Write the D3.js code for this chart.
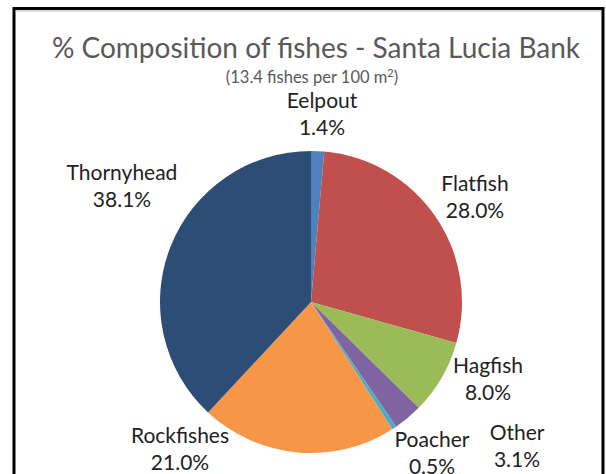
<!DOCTYPE html>
<html><head><meta charset="utf-8">
<script src="https://cdn.jsdelivr.net/npm/d3@7"></script>
<style>body{margin:0;background:#fff;} svg{display:block;}</style>
</head><body>
<svg id="chart" width="606" height="474"></svg>
<script>
const categories = ["Eelpout","Flatfish","Hagfish","Other","Poacher","Rockfishes","Thornyhead"];
const values = [1.4, 28.0, 8.0, 3.1, 0.5, 21.0, 38.1];
const valueLabels = ["1.4%","28.0%","8.0%","3.1%","0.5%","21.0%","38.1%"];
const colors = ["#4F81BD","#C0504D","#9BBB59","#8064A2","#4BACC6","#F79646","#2C4D75"];
// label anchor points (x,y of first line) in px
const labelPos = [[322,108],[475,191],[488,373],[517,440],[432,447],[180,443],[122,180]];

const svg = d3.select("#chart");
// frame
svg.append("rect").attr("x",14).attr("y",8.5).attr("width",589).attr("height",480)
  .attr("fill","none").attr("stroke","#000").attr("stroke-width",3);
svg.append("line").attr("x1",15.5).attr("x2",601).attr("y1",11).attr("y2",11).attr("stroke","#bbb").attr("stroke-width",1);

const font = "Lato, 'Open Sans', sans-serif";
svg.append("text").attr("x",316).attr("y",58).attr("text-anchor","middle")
  .attr("font-family",font).attr("font-size",28).attr("fill","#595959")
  .text("% Composition of fishes - Santa Lucia Bank");
const sub = svg.append("text").attr("x",312).attr("y",83).attr("text-anchor","middle")
  .attr("font-family",font).attr("font-size",16.5).attr("fill","#595959");
sub.append("tspan").text("(13.4 fishes per 100 m");
sub.append("tspan").attr("font-size",11).attr("dy",-6).text("2");
sub.append("tspan").attr("dy",6).text(")");

const cx = 311, cy = 302, r = 151;
const pie = d3.pie().sort(null).value(d => d)(values);
const arc = d3.arc().innerRadius(0).outerRadius(r);
const g = svg.append("g").attr("transform",`translate(${cx},${cy})`);
g.selectAll("path").data(pie).join("path")
  .attr("d",arc).attr("fill",(d,i)=>colors[i]);

const lg = svg.append("g").attr("font-family",font).attr("font-size",21).attr("fill","#222").attr("text-anchor","middle");
categories.forEach((c,i)=>{
  const t = lg.append("text").attr("x",labelPos[i][0]).attr("y",labelPos[i][1]);
  t.append("tspan").attr("x",labelPos[i][0]).text(c);
  t.append("tspan").attr("x",labelPos[i][0]).attr("dy",27).text(valueLabels[i]);
});
</script>
</body></html>
